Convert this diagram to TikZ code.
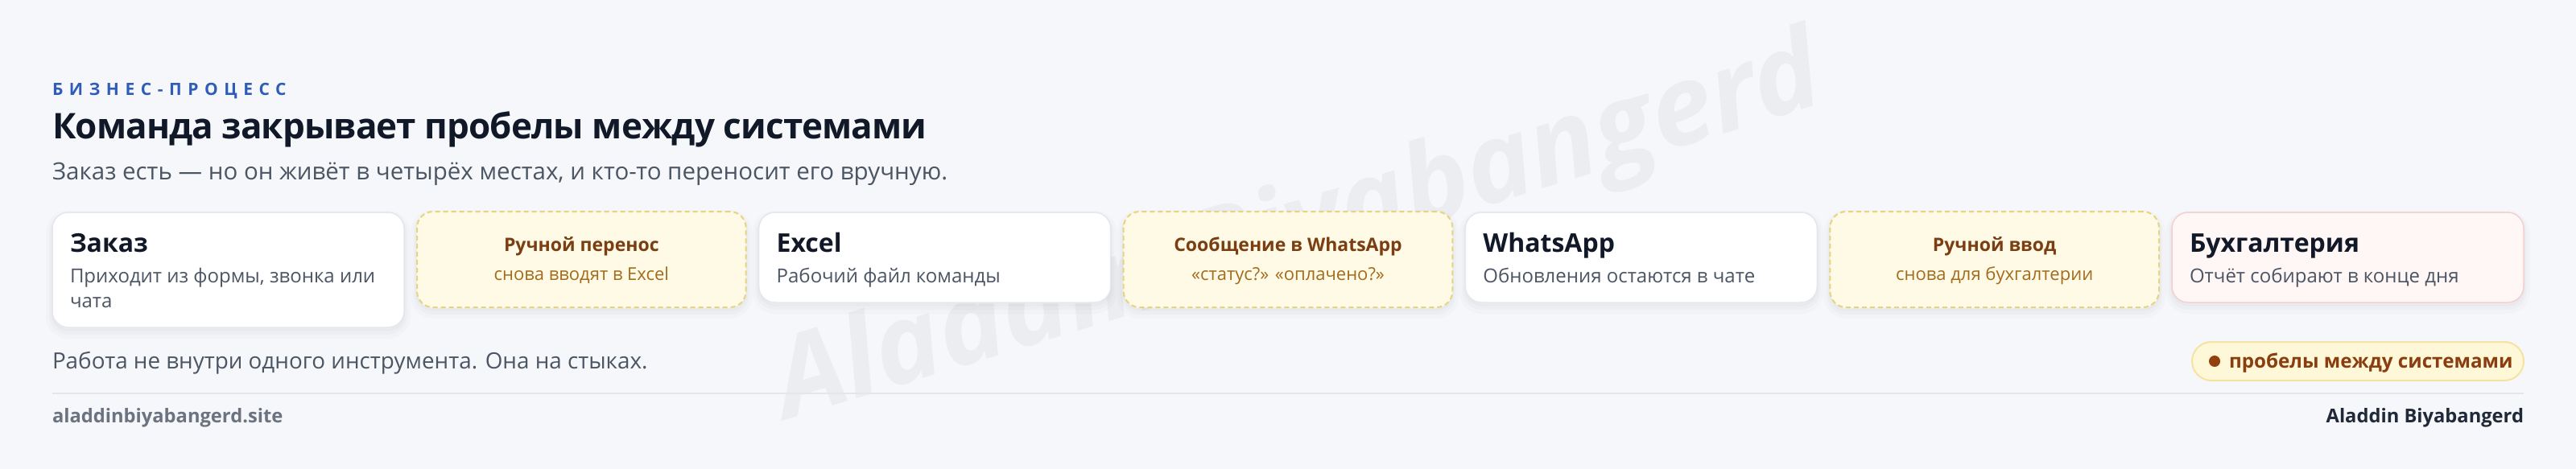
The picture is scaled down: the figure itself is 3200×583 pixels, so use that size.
\documentclass[tikz,border=0pt]{standalone}
\usepackage{fontspec}
\setmainfont{Open Sans}
\definecolor{bgc}{HTML}{F5F7FA}
\definecolor{kicker}{HTML}{2F5CB8}
\definecolor{titlec}{HTML}{111827}
\definecolor{subc}{HTML}{4B5563}
\definecolor{cardline}{HTML}{E4E8EE}
\definecolor{gapfill}{HTML}{FEFAE6}
\definecolor{gapline}{HTML}{E8D47C}
\definecolor{gaptitle}{HTML}{7A3E12}
\definecolor{gapsub}{HTML}{A26B1D}
\definecolor{redfill}{HTML}{FFF6F6}
\definecolor{redline}{HTML}{F2D0D0}
\definecolor{pillfill}{HTML}{FEF7D8}
\definecolor{pillline}{HTML}{F5E3A2}
\definecolor{pilltext}{HTML}{8A3D0F}
\definecolor{dotc}{HTML}{92400E}
\definecolor{rulec}{HTML}{E3E7EC}
\definecolor{sitec}{HTML}{6B7280}
\definecolor{authorc}{HTML}{1F2937}
\begin{document}
\begin{tikzpicture}[x=1pt,y=-1pt,
  every node/.style={inner sep=0pt, outer sep=0pt},
  shadowed/.style={
    preaction={draw=black, solid, draw opacity=0.014, line width=16pt, transform canvas={yshift=-6pt}},
    preaction={draw=black, solid, draw opacity=0.018, line width=8pt, transform canvas={yshift=-5pt}},
    preaction={draw=black, solid, draw opacity=0.02, line width=3pt, transform canvas={yshift=-3pt}}},
  card/.style={shadowed, draw=cardline, line width=1.5pt, fill=white, rounded corners=20pt,
    anchor=north west, minimum width=437pt, minimum height=112pt},
  redcard/.style={card, draw=redline, fill=redfill},
  gapbox/.style={shadowed, draw=gapline, line width=2pt, dash pattern=on 6pt off 4pt, fill=gapfill,
    rounded corners=20pt, anchor=north west, minimum width=408.67pt, minimum height=119pt},
  ctitle/.style={anchor=base west, text=titlec, font=\fontsize{32}{32}\selectfont\bfseries},
  cdesc/.style={anchor=base west, text=subc, font=\fontsize{24}{28}\selectfont},
  gtitle/.style={anchor=base, text=gaptitle, font=\fontsize{23}{28}\selectfont\bfseries},
  gsub/.style={anchor=base, text=gapsub, font=\fontsize{22}{26}\selectfont},
  ]
\fill[bgc] (0,0) rectangle (3200,583);
\useasboundingbox (0,0) rectangle (3200,583);

% watermark
\node[rotate=17, text=black, text opacity=0.04, font=\fontsize{138}{138}\selectfont\bfseries\itshape] (wm) at (1614,290) {Aladdin Biyabangerd};

% header
\node[anchor=base west, text=kicker, font=\fontsize{21}{21}\selectfont\bfseries\addfontfeature{LetterSpace=36}] (kick) at (65,118) {БИЗНЕС-ПРОЦЕСС};
\node[anchor=base west, text=titlec, font=\fontsize{44}{44}\selectfont\bfseries\addfontfeature{LetterSpace=-2}] (title) at (65,172) {Команда закрывает пробелы между системами};
\node[anchor=base west, text=subc, font=\fontsize{29.5}{29.5}\selectfont] (sub) at (65,223) {Заказ есть — но он живёт в четырёх местах, и кто-то переносит его вручную.};

% row of cards
\node[card, minimum height=143pt] (c1) at (65,264) {};
\node[gapbox] (g1) at (518,263) {};
\node[card] (c2) at (942.67,264) {};
\node[gapbox] (g2) at (1395.67,263) {};
\node[card] (c3) at (1820.33,264) {};
\node[gapbox] (g3) at (2273.33,263) {};
\node[redcard] (c4) at (2698,264) {};

% card texts
\node[ctitle] (c1t) at (87,313) {Заказ};
\node[cdesc] (c1d) at (87,351) {Приходит из формы, звонка или};
\node[cdesc] (c1e) at (87,382) {чата};
\node[ctitle] (c2t) at (964.67,313) {Excel};
\node[cdesc] (c2d) at (964.67,351) {Рабочий файл команды};
\node[ctitle] (c3t) at (1842.33,313) {WhatsApp};
\node[cdesc] (c3d) at (1842.33,351) {Обновления остаются в чате};
\node[ctitle] (c4t) at (2720,313) {Бухгалтерия};
\node[cdesc] (c4d) at (2720,351) {Отчёт собирают в конце дня};

% gap texts
\node[gtitle] (g1t) at (722.33,312) {Ручной перенос};
\node[gsub] (g1s) at (722.33,348) {снова вводят в Excel};
\node[gtitle] (g2t) at (1600,312) {Сообщение в WhatsApp};
\node[gsub] (g2s) at (1600,348) {«статус?» «оплачено?»};
\node[gtitle] (g3t) at (2477.67,312) {Ручной ввод};
\node[gsub] (g3s) at (2477.67,348) {снова для бухгалтерии};

% bottom note and pill
\node[anchor=base west, text=subc, font=\fontsize{27.8}{27.8}\selectfont] (note) at (65,458) {Работа не внутри одного инструмента. Она на стыках.};
\node[draw=pillline, line width=2pt, fill=pillfill, rounded corners=24pt, minimum width=412pt, minimum height=48pt, anchor=east] (pill) at (3135,449) {};
\fill[dotc] (2751,449) circle (7) coordinate (dot);
\node[anchor=base west, text=pilltext, font=\fontsize{24.2}{24.2}\selectfont\bfseries] (pillt) at (2769,457.5) {пробелы между системами};

% footer
\coordinate (rl) at (65,489);
\coordinate (rr) at (3135,489);
\draw[rulec, line width=2pt] (rl) -- (rr);
\node[anchor=base west, text=sitec, font=\fontsize{23.7}{23.7}\selectfont\bfseries] (site) at (65,525) {aladdinbiyabangerd.site};
\node[anchor=base east, text=authorc, font=\fontsize{23.7}{23.7}\selectfont\bfseries] (author) at (3135,525) {Aladdin Biyabangerd};
\end{tikzpicture}
\end{document}
